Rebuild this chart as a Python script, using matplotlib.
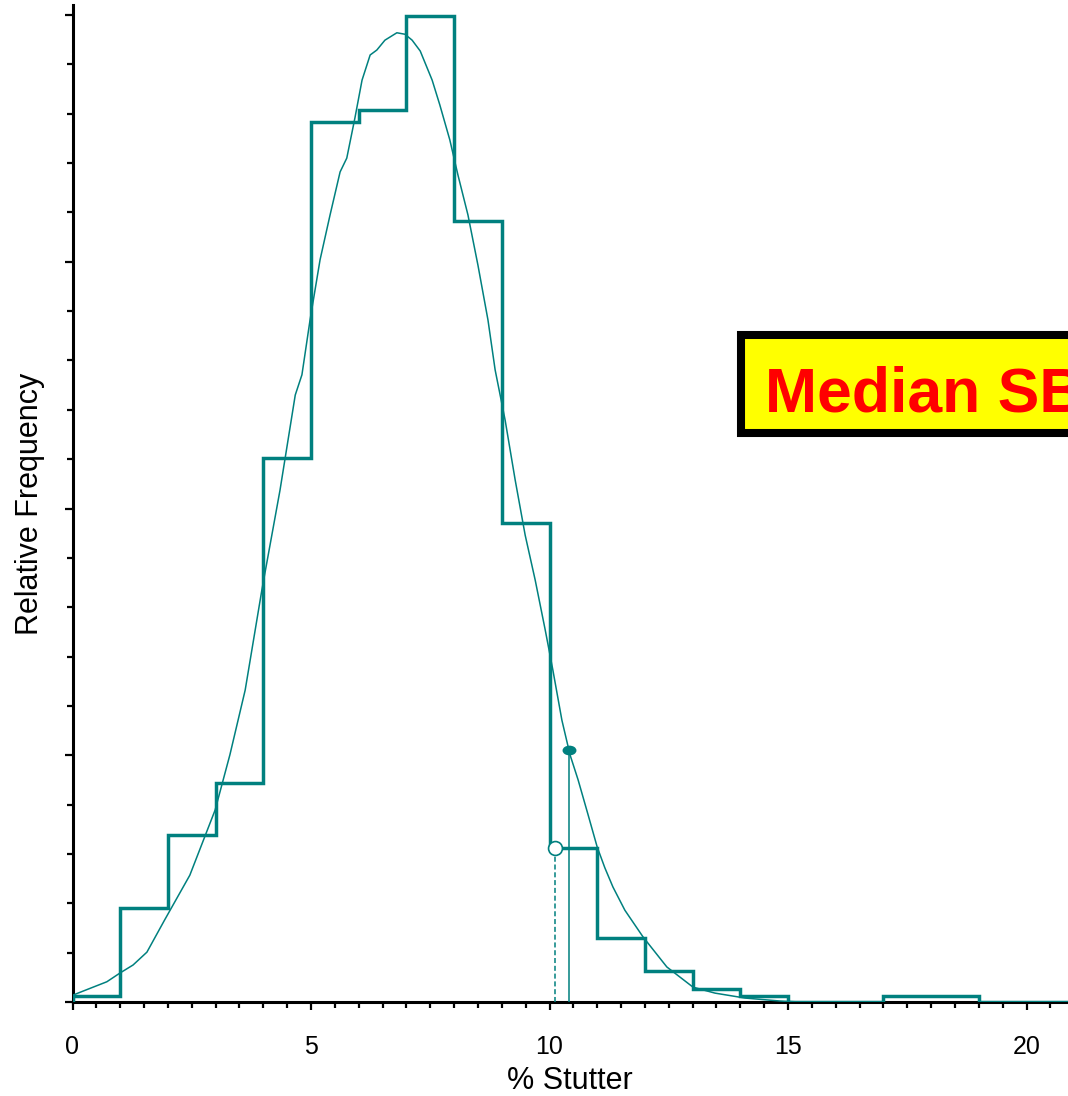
import numpy as np
import matplotlib
matplotlib.use("Agg")
import matplotlib.pyplot as plt
from matplotlib.patches import Rectangle
from matplotlib.path import Path
from matplotlib.transforms import Affine2D
from matplotlib.ticker import MultipleLocator, NullFormatter

plt.rcParams['font.family'] = ['Liberation Sans', 'DejaVu Sans']

teal = "#00807f"

# histogram of % stutter (relative frequency, arbitrary units)
bin_edges = list(range(0, 22))
bin_heights = [0.12, 1.90, 3.38, 4.44, 11.02, 17.83, 18.07, 19.98, 15.83, 9.71,
               3.12, 1.30, 0.63, 0.26, 0.12, 0, 0, 0.12, 0.12, 0, 0]

# smoothed density curve
curve_x = [0.01, 0.43, 0.72, 1.00, 1.27, 1.56, 1.93, 2.46, 2.99, 3.30, 3.62, 3.97,
           4.35, 4.67, 4.81, 4.98, 5.19, 5.40, 5.61, 5.75, 5.92, 6.07, 6.24, 6.38,
           6.55, 6.80, 6.97, 7.12, 7.29, 7.54, 7.70, 7.91, 8.08, 8.29, 8.50, 8.71,
           8.86, 9.07, 9.28, 9.49, 9.70, 9.91, 10.07, 10.26, 10.43, 10.60, 10.81,
           11.00, 11.16, 11.33, 11.58, 11.96, 12.46, 13.01, 13.47, 14.10, 14.83, 15.25]
curve_y = [0.14, 0.30, 0.41, 0.59, 0.75, 1.01, 1.66, 2.57, 3.89, 5.01, 6.32, 8.35,
           10.37, 12.30, 12.71, 13.82, 15.04, 15.95, 16.82, 17.10, 17.91, 18.68, 19.19, 19.29,
           19.49, 19.64, 19.61, 19.49, 19.27, 18.68, 18.18, 17.47, 16.76, 15.95, 14.93, 13.82,
           12.81, 11.79, 10.58, 9.46, 8.55, 7.54, 6.73, 5.71, 5.01, 4.50, 3.79,
           3.14, 2.72, 2.33, 1.86, 1.32, 0.71, 0.30, 0.18, 0.08, 0.02, 0.00]

# median markers: histogram median (open) and curve median (filled)
hist_median_x, hist_median_y = 10.12, 3.12
curve_median_x, curve_median_y = 10.41, 5.10

fig = plt.figure(figsize=(10.68, 10.96), dpi=100)
ax = fig.add_axes([72.5 / 1068, 94 / 1096, 1 - 72.5 / 1068, 997 / 1096])

ax.stairs(bin_heights, bin_edges, color=teal, lw=2.5, baseline=0, zorder=3)
ax.plot(curve_x, curve_y, color=teal, lw=1.1, zorder=3)

ax.plot([hist_median_x, hist_median_x], [0, hist_median_y], color=teal, lw=1.1,
        dashes=(3.3, 1.8), zorder=4)
ax.plot([curve_median_x, curve_median_x], [0, curve_median_y], color=teal, lw=1.1, zorder=4)
ax.plot(hist_median_x, hist_median_y, marker='o', ms=10, mfc='white', mec=teal,
        mew=1.2, zorder=5)
oval = Path.unit_circle().transformed(Affine2D().scale(1.5, 1.0))
ax.plot(curve_median_x, curve_median_y, marker=oval, ms=9, color=teal, zorder=5)

ax.set_xlim(0, (1068 - 72.5) / 47.7)
ax.set_ylim(0, (1002 - 5) / 49.35)
for s in ['top', 'right']:
    ax.spines[s].set_visible(False)
for s in ['left', 'bottom']:
    ax.spines[s].set_linewidth(2.2)

ax.xaxis.set_major_locator(MultipleLocator(5))
ax.xaxis.set_minor_locator(MultipleLocator(0.5))
ax.yaxis.set_major_locator(MultipleLocator(5))
ax.yaxis.set_minor_locator(MultipleLocator(1))
ax.yaxis.set_major_formatter(NullFormatter())
ax.tick_params(which='major', length=6, width=1.6, direction='out')
ax.tick_params(which='minor', length=4.3, width=1.6, direction='out')
ax.tick_params(axis='x', which='major', labelsize=18, pad=18)

ax.set_xlabel("% Stutter", fontsize=22, labelpad=5)
ax.set_ylabel("Relative Frequency", fontsize=22, labelpad=10)

# label box, runs off the right edge of the picture
box = Rectangle((741 / 1068, (1096 - 433) / 1096), 0.5, 98 / 1096,
                transform=fig.transFigure, facecolor='yellow', edgecolor='black',
                lw=5.8, clip_on=False)
fig.patches.append(box)
fig.text(765 / 1068, (1096 - 411) / 1096, "Median SB", color='red',
         fontsize=45, fontweight='bold', va='baseline', ha='left')

fig.savefig("out.png", dpi=100)
